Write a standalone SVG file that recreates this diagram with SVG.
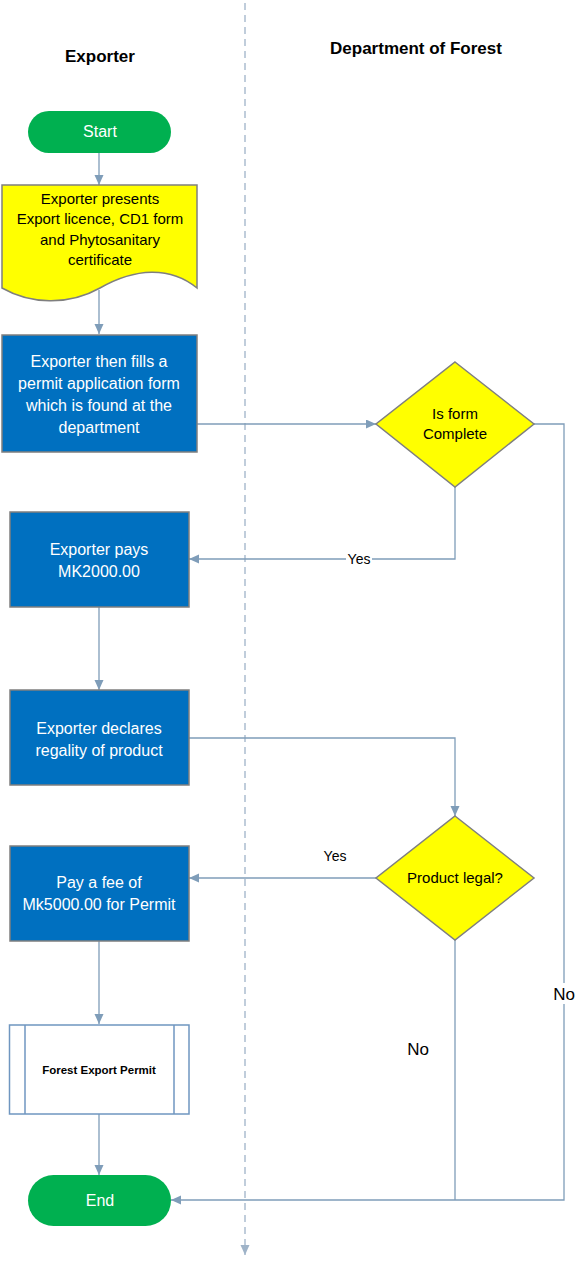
<svg xmlns="http://www.w3.org/2000/svg" width="587" height="1261" viewBox="0 0 587 1261">
<style>
.conn{fill:none;stroke:#7F9DB9;stroke-width:1.3}
.proc{fill:#0070C0;stroke:#7F7F7F;stroke-width:1.5}
.dec{fill:#FFFF00;stroke:#7F7F7F;stroke-width:1.5}
.term{fill:#00B050}
.wt{font-family:"Liberation Sans",Arial,sans-serif;font-size:16px;fill:#FFFFFF;text-anchor:middle}
.bt{font-family:"Liberation Sans",Arial,sans-serif;font-size:15px;fill:#000000;text-anchor:middle}
.hd{font-family:"Liberation Sans",Arial,sans-serif;font-size:17px;font-weight:bold;fill:#000000;text-anchor:middle}
.lbl{font-family:"Liberation Sans",Arial,sans-serif;fill:#000000;text-anchor:middle}
</style>
<defs>
<marker id="arr" markerUnits="userSpaceOnUse" markerWidth="11" markerHeight="10" refX="10" refY="4.5" orient="auto">
<path d="M0,0 L10,4.5 L0,9 z" fill="#7F9DB9"/>
</marker>
<marker id="arrL" markerUnits="userSpaceOnUse" markerWidth="11" markerHeight="10" refX="10" refY="4.5" orient="auto">
<path d="M0,0 L10,4.5 L0,9 z" fill="#9FB3C8"/>
</marker>
</defs>
<rect width="587" height="1261" fill="#FFFFFF"/>
<g id="lane-divider">
<line x1="245" y1="3" x2="245" y2="1255" stroke="#9FB3C8" stroke-width="1.3" stroke-dasharray="7,5" marker-end="url(#arrL)"/>
</g>
<g id="headers">
<text class="hd" x="100" y="62">Exporter</text>
<text class="hd" x="416" y="54">Department of Forest</text>
</g>
<g id="connectors">
<path class="conn" d="M99,153 V185" marker-end="url(#arr)"/>
<path class="conn" d="M99,290 V334" marker-end="url(#arr)"/>
<path class="conn" d="M197,424 H376" marker-end="url(#arr)"/>
<path class="conn" d="M534,424 H564 V1200 H171" marker-end="url(#arr)"/>
<path class="conn" d="M455,487 V559 H189" marker-end="url(#arr)"/>
<path class="conn" d="M99,607 V690" marker-end="url(#arr)"/>
<path class="conn" d="M189,738 H455 V816" marker-end="url(#arr)"/>
<path class="conn" d="M376,878 H189" marker-end="url(#arr)"/>
<path class="conn" d="M455,940 V1200"/>
<path class="conn" d="M99,941 V1024" marker-end="url(#arr)"/>
<path class="conn" d="M99,1114 V1175" marker-end="url(#arr)"/>
<rect x="346" y="550" width="26" height="17" fill="#FFFFFF"/>
<text class="lbl" x="359" y="564" font-size="14">Yes</text>
<text class="lbl" x="335" y="861" font-size="14">Yes</text>
<rect x="552" y="983" width="24" height="21" fill="#FFFFFF"/>
<text class="lbl" x="564" y="1000" font-size="17">No</text>
<text class="lbl" x="418" y="1055" font-size="17">No</text>
</g>
<g id="start">
<rect class="term" x="28" y="111" width="143" height="42" rx="21" ry="21"/>
<text class="wt" x="100" y="137" font-size="15">Start</text>
</g>
<g id="doc">
<path d="M2,185 H197 V288 C170,266 135,268 100,288 C68,306 30,304 2,288 Z" fill="#FFFF00" stroke="#7F7F7F" stroke-width="1.5"/>
<text class="bt" x="100" y="204">Exporter presents</text>
<text class="bt" x="100" y="224">Export licence, CD1 form</text>
<text class="bt" x="100" y="245">and Phytosanitary</text>
<text class="bt" x="100" y="265">certificate</text>
</g>
<g id="fill-form">
<rect class="proc" x="2" y="335" width="195" height="117"/>
<text class="wt" x="99" y="367">Exporter then fills a</text>
<text class="wt" x="99" y="389">permit application form</text>
<text class="wt" x="99" y="411">which is found at the</text>
<text class="wt" x="99" y="433">department</text>
</g>
<g id="is-complete">
<polygon class="dec" points="455,362 534,424 455,487 376,424"/>
<text class="bt" x="455" y="419" font-size="14.5">Is form</text>
<text class="bt" x="455" y="439" font-size="14.5">Complete</text>
</g>
<g id="pays">
<rect class="proc" x="10" y="512" width="179" height="95"/>
<text class="wt" x="99" y="555">Exporter pays</text>
<text class="wt" x="99" y="577">MK2000.00</text>
</g>
<g id="declares">
<rect class="proc" x="10" y="690" width="179" height="95"/>
<text class="wt" x="99" y="734">Exporter declares</text>
<text class="wt" x="99" y="756">regality of product</text>
</g>
<g id="product-legal">
<polygon class="dec" points="455,816 534,878 455,940 376,878"/>
<text class="bt" x="455" y="883">Product legal?</text>
</g>
<g id="pay-fee">
<rect class="proc" x="10" y="846" width="179" height="95"/>
<text class="wt" x="99" y="888">Pay a fee of</text>
<text class="wt" x="99" y="910">Mk5000.00 for Permit</text>
</g>
<g id="permit">
<rect x="9.5" y="1025" width="179.5" height="89" fill="#FFFFFF" stroke="#6F96C0" stroke-width="1.5"/>
<line x1="25" y1="1025" x2="25" y2="1114" stroke="#6F96C0" stroke-width="1.5"/>
<line x1="174" y1="1025" x2="174" y2="1114" stroke="#6F96C0" stroke-width="1.5"/>
<text class="lbl" x="99" y="1074" font-size="11.5" font-weight="bold">Forest Export Permit</text>
</g>
<g id="end">
<rect class="term" x="28" y="1175" width="143" height="51" rx="25.5" ry="25.5"/>
<text class="wt" x="100" y="1206" font-size="15">End</text>
</g>
</svg>
